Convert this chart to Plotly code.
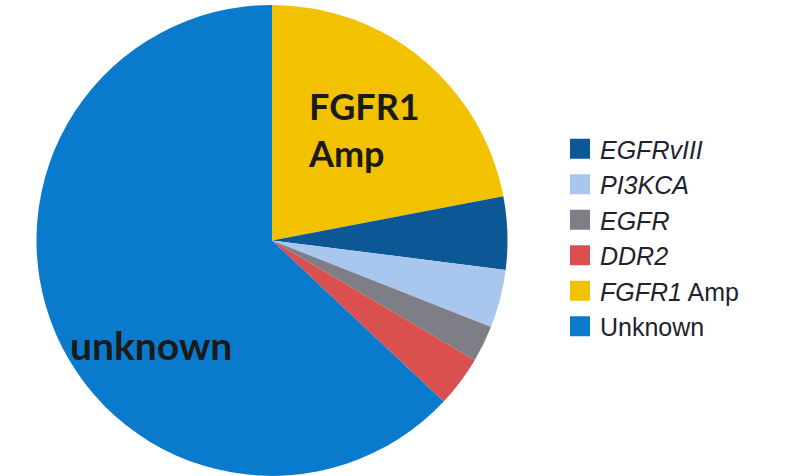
import plotly.graph_objects as go

# Share of cases per alteration (percent), in clockwise slice order from 12 o'clock
slice_labels = ["FGFR1 Amp", "EGFRvIII", "PI3KCA", "EGFR", "DDR2", "Unknown"]
slice_values = [22, 5, 4, 2.5, 3.5, 63]
slice_colors = ["#F2C200", "#0C5896", "#A9C7EE", "#7E7F86", "#D9504F", "#0A7BCC"]

# Legend entries, in the order they are listed
legend_labels = ["EGFRvIII", "PI3KCA", "EGFR", "DDR2", "FGFR1 Amp", "Unknown"]
legend_text = ["<i>EGFRvIII</i>", "<i>PI3KCA</i>", "<i>EGFR</i>", "<i>DDR2</i>",
               "<i>FGFR1</i> Amp", "Unknown"]

color_of = dict(zip(slice_labels, slice_colors))

W, H = 802, 476

fig = go.Figure()

fig.add_trace(go.Pie(
    labels=slice_labels,
    values=slice_values,
    marker=dict(colors=slice_colors, line=dict(width=0)),
    sort=False,
    direction="clockwise",
    rotation=0,
    textinfo="none",
    hoverinfo="label+percent",
    showlegend=False,
    domain=dict(x=[36.5 / W, 507.5 / W], y=[0.0, 0.99]),
))

# Legend swatches
for lab, txt in zip(legend_labels, legend_text):
    c = color_of[lab]
    fig.add_trace(go.Scatter(
        x=[None], y=[None],
        mode="markers",
        name=txt,
        legendgroup=lab,
        marker=dict(symbol="square", size=16, color=c, line=dict(color=c, width=4)),
        showlegend=True,
        hoverinfo="skip",
    ))

fig.add_annotation(
    text="FGFR1<br>Amp", xref="paper", yref="paper",
    x=306 / W, y=1 - 130 / H, xanchor="left", yanchor="middle", align="left",
    showarrow=False,
    font=dict(family="Lato", size=36, color="#1A1A1A", weight="bold"),
)
fig.add_annotation(
    text="unknown", xref="paper", yref="paper",
    x=68 / W, y=1 - 345 / H, xanchor="left", yanchor="middle", align="left",
    showarrow=False,
    font=dict(family="Lato", size=39, color="#1A1A1A", weight="bold"),
)

fig.update_layout(
    width=W, height=H,
    margin=dict(l=0, r=0, t=0, b=0),
    paper_bgcolor="white",
    plot_bgcolor="white",
    xaxis=dict(visible=False),
    yaxis=dict(visible=False),
    legend=dict(
        x=560 / W, y=1 - 126 / H, xanchor="left", yanchor="top",
        font=dict(family="Liberation Sans", size=25, color="#22222E"),
        tracegroupgap=0,
        bgcolor="rgba(0,0,0,0)",
        itemclick=False, itemdoubleclick=False,
    ),
)

fig.write_html("out.html")
